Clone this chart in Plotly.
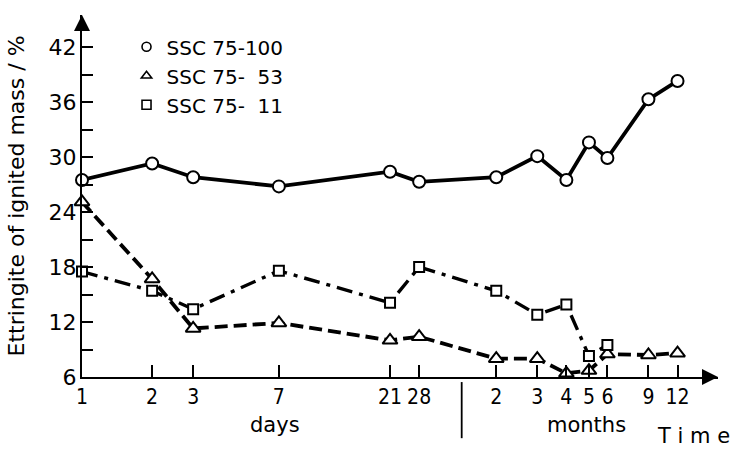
import plotly.graph_objects as go

# Sampling ages (in days) and their axis labels
age_days = [1, 2, 3, 7, 21, 28, 60, 90, 120, 150, 180, 270, 360]
tick_labels = ["1", "2", "3", "7", "21", "28", "2", "3", "4", "5", "6", "9", "12"]

# Ettringite content (% of ignited mass)
ssc_100 = [27.5, 29.3, 27.8, 26.8, 28.4, 27.3, 27.8, 30.1, 27.5, 31.6, 29.9, 36.3, 38.3]
ssc_53 = [25.1, 16.7, 11.3, 11.9, 10.0, 10.4, 8.0, 8.0, 6.4, 6.7, 8.5, 8.4, 8.6]
ssc_11 = [17.5, 15.4, 13.4, 17.6, 14.1, 18.0, 15.4, 12.8, 13.9, 8.3, 9.5]

series_names = ["SSC 75-100", "SSC 75-\u00a0\u00a053", "SSC 75-\u00a0\u00a011"]

FONT = "DejaVu Sans"
NARROW = "DejaVu Sans Condensed, DejaVu Sans"
INK = "black"
X_END = 2.73          # log10(days) at the arrow tip
Y_RANGE = [6, 45.5]

fig = go.Figure()

styles = [
    dict(y=ssc_100, symbol="circle", dash="solid", size=12, width=3.8),
    dict(y=ssc_53, symbol="triangle-up", dash="13px,6px", size=13, width=3.8),
    dict(y=ssc_11, symbol="square", dash="16px,7px,4px,7px", size=10, width=3.4),
]

for name, st in zip(series_names, styles):
    ys = st["y"]
    fig.add_trace(go.Scatter(
        x=age_days[:len(ys)], y=ys, mode="lines+markers", showlegend=False,
        line=dict(color=INK, width=st["width"], dash=st["dash"]),
        marker=dict(symbol=st["symbol"], size=st["size"], color="white",
                    line=dict(color=INK, width=2)),
        cliponaxis=False,
    ))

# Marker-only legend entries
for name, st in zip(series_names, styles):
    fig.add_trace(go.Scatter(
        x=[None], y=[None], mode="markers", name=name,
        marker=dict(symbol=st["symbol"], size=9, color="white",
                    line=dict(color=INK, width=1.6)),
    ))

fig.update_layout(
    width=735, height=449,
    margin=dict(l=82, r=17, t=15, b=72),
    paper_bgcolor="white", plot_bgcolor="white",
    font=dict(family=FONT, size=20, color=INK),
    showlegend=True,
    legend=dict(x=0.07, y=0.966, xanchor="left", yanchor="top",
                bgcolor="rgba(0,0,0,0)", font=dict(size=20),
                itemsizing="trace", tracegroupgap=0),
    xaxis=dict(
        type="log", range=[0, X_END],
        tickmode="array", tickvals=age_days, ticktext=tick_labels,
        ticks="inside", ticklen=12, tickwidth=1.5, tickcolor=INK,
        showline=True, linecolor=INK, linewidth=2,
        showgrid=False, zeroline=False, ticklabelstandoff=0,
        tickfont=dict(size=21, family=NARROW),
    ),
    yaxis=dict(
        range=Y_RANGE, tickmode="array",
        tickvals=[6, 12, 18, 24, 30, 36, 42],
        ticks="inside", ticklen=11, tickwidth=1.5, tickcolor=INK,
        minor=dict(tickvals=[9, 15, 21, 27, 33, 39], ticks="inside",
                   ticklen=11, tickwidth=1.5, tickcolor=INK),
        showline=True, linecolor=INK, linewidth=2,
        showgrid=False, zeroline=False, ticklabelstandoff=-1,
        tickfont=dict(size=22),
        title=dict(text="Ettringite of ignited mass / %", standoff=18,
                   font=dict(size=22)),
    ),
)

# Arrow heads on both axes
fig.add_annotation(x=1.0, y=0, xref="paper", yref="paper", ax=-16, ay=0,
                   showarrow=True, arrowhead=2, arrowsize=1.6, arrowwidth=2,
                   arrowcolor=INK, text="")
fig.add_annotation(x=0, y=1.0, xref="paper", yref="paper", ax=0, ay=16,
                   showarrow=True, arrowhead=2, arrowsize=1.6, arrowwidth=2,
                   arrowcolor=INK, text="")

# Divider between the day and month sections of the time axis
fig.add_shape(type="line", xref="paper", yref="paper",
              x0=0.597, x1=0.597, y0=-0.014, y1=-0.169,
              line=dict(color=INK, width=1.8))

fig.add_annotation(x=0.3035, y=-0.133, xref="paper", yref="paper",
                   xanchor="center", yanchor="middle",
                   text="days", showarrow=False, font=dict(size=21))
fig.add_annotation(x=0.794, y=-0.133, xref="paper", yref="paper",
                   xanchor="center", yanchor="middle",
                   text="months", showarrow=False, font=dict(size=21))
fig.add_annotation(x=0.962, y=-0.163, xref="paper", yref="paper",
                   xanchor="center", yanchor="middle",
                   text="T i m e", showarrow=False, font=dict(size=21))

fig.write_html("out.html")
